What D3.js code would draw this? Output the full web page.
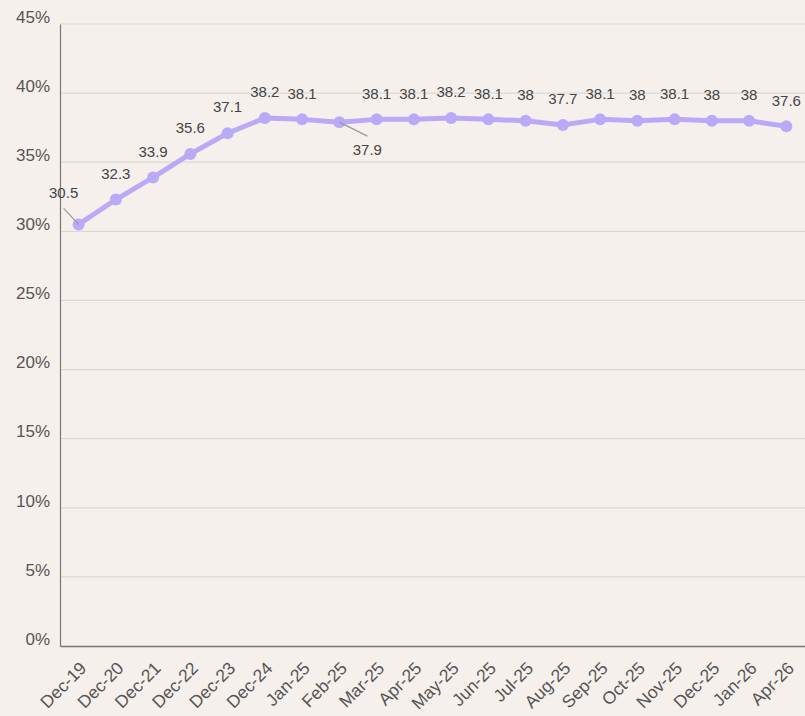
<!DOCTYPE html>
<html>
<head>
<meta charset="utf-8">
<script src="https://cdn.jsdelivr.net/npm/d3@7"></script>
<style>
  body { margin: 0; background: #f5f0ec; }
  svg { display: block; font-family: "Liberation Sans", Arial, sans-serif; }
</style>
</head>
<body>
<div id="chart"></div>
<script>
// data
var months = ["Dec-19", "Dec-20", "Dec-21", "Dec-22", "Dec-23", "Dec-24", "Jan-25", "Feb-25", "Mar-25", "Apr-25",
              "May-25", "Jun-25", "Jul-25", "Aug-25", "Sep-25", "Oct-25", "Nov-25", "Dec-25", "Jan-26", "Apr-26"];
var shares = [30.5, 32.3, 33.9, 35.6, 37.1, 38.2, 38.1, 37.9, 38.1, 38.1,
              38.2, 38.1, 38, 37.7, 38.1, 38, 38.1, 38, 38, 37.6];
var yTicks = [0, 5, 10, 15, 20, 25, 30, 35, 40, 45];

var W = 805, H = 716;
var margin = {top: 24, right: 0, bottom: 70, left: 60},
    width = W - margin.left - margin.right,
    height = H - margin.top - margin.bottom;

var svg = d3.select("#chart")
  .append("svg")
    .attr("width", W)
    .attr("height", H)
  .append("g")
    .attr("transform", "translate(" + margin.left + "," + margin.top + ")");

// scales
var x = d3.scalePoint()
  .domain(months)
  .range([0, width])
  .padding(0.5);

var y = d3.scaleLinear()
  .domain([0, 45])
  .range([height, 0]);

// gridlines
svg.append("g")
  .selectAll("line")
  .data(yTicks.slice(1))
  .enter()
  .append("line")
    .attr("x1", 0)
    .attr("x2", width)
    .attr("y1", function(d) { return y(d); })
    .attr("y2", function(d) { return y(d); })
    .attr("stroke", "#dcd8d5")
    .attr("stroke-width", 1.2);

// Y axis
var yAxis = svg.append("g")
  .call(d3.axisLeft(y).tickValues(yTicks).tickSize(0).tickPadding(10).tickFormat(function(d) { return d + "%"; }));
yAxis.select(".domain").attr("stroke", "#777").attr("stroke-width", 1.2);
yAxis.selectAll("text")
  .attr("fill", "#555")
  .style("font-size", "17px")
  .attr("dy", "-0.1em");

// X axis
var xAxis = svg.append("g")
  .attr("transform", "translate(0," + height + ")")
  .call(d3.axisBottom(x).tickSize(0).tickPadding(0));
xAxis.select(".domain").attr("stroke", "#777").attr("stroke-width", 1.5);
xAxis.selectAll("text")
  .attr("fill", "#555")
  .style("font-size", "17.5px")
  .attr("text-anchor", "end")
  .attr("dy", "0.35em")
  .attr("transform", "translate(4,19) rotate(-45)");

// line
var line = d3.line()
  .x(function(d, i) { return x(months[i]); })
  .y(function(d) { return y(d); });

svg.append("path")
  .datum(shares)
  .attr("fill", "none")
  .attr("stroke", "#b9aaf8")
  .attr("stroke-width", 5)
  .attr("stroke-linejoin", "round")
  .attr("d", line);

// dots
svg.append("g")
  .selectAll("circle")
  .data(shares)
  .enter()
  .append("circle")
    .attr("cx", function(d, i) { return x(months[i]); })
    .attr("cy", function(d) { return y(d); })
    .attr("r", 6)
    .attr("fill", "#b9aaf8");

// labels, two of them pushed off with a leader line
var offsets = {0: [-15, -32], 7: [28, 28]};

svg.append("g")
  .selectAll("line")
  .data(shares.map(function(d, i) { return [d, i]; }).filter(function(p) { return offsets[p[1]]; }))
  .enter()
  .append("line")
    .attr("x1", function(p) { return x(months[p[1]]); })
    .attr("y1", function(p) { return y(p[0]); })
    .attr("x2", function(p) { return x(months[p[1]]) + offsets[p[1]][0]; })
    .attr("y2", function(p) { return y(p[0]) + offsets[p[1]][1] * 0.5; })
    .attr("stroke", "#999")
    .attr("stroke-width", 1.2);

svg.append("g")
  .selectAll("text")
  .data(shares)
  .enter()
  .append("text")
    .attr("x", function(d, i) { return x(months[i]) + (offsets[i] ? offsets[i][0] : 0); })
    .attr("y", function(d, i) { return y(d) + (offsets[i] ? offsets[i][1] : -26); })
    .attr("text-anchor", "middle")
    .attr("dy", "0.35em")
    .attr("fill", "#444")
    .style("font-size", "15px")
    .text(function(d) { return d; });
</script>
</body>
</html>
